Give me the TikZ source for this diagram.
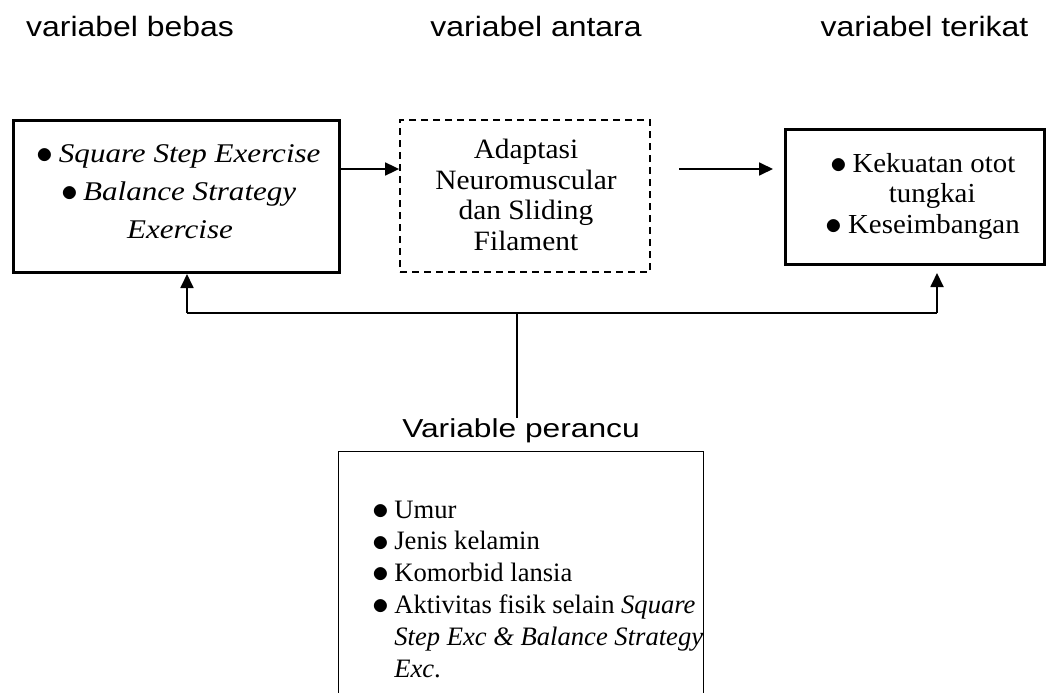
\documentclass[tikz,border=0pt]{standalone}
\usepackage{fontspec}
\usepackage{graphicx}
\setmainfont{Liberation Serif}
\newfontfamily\serifA[FakeStretch=1.15]{Liberation Serif}
\newfontfamily\serifB[FakeStretch=1.05]{Liberation Serif}
\newfontfamily\sansA[FakeStretch=1.14]{Liberation Sans}
\newfontfamily\sansB[FakeStretch=1.22]{Liberation Sans}
\usetikzlibrary{arrows.meta}
\newcommand\bul{\makebox[0.42em]{\raisebox{-0.05em}{\scalebox{1.35}{$\bullet$}}}\hspace{0.3em}}
\begin{document}
\begin{tikzpicture}[x=1pt,y=-1pt,
  toplabel/.style={anchor=base, inner sep=0, font=\sansA\fontsize{28}{32}\selectfont},
  boxframe/.style={draw, inner sep=0, line width=#1},
  dashframe/.style={draw, inner sep=0, line width=1.8pt, dash pattern=on 7pt off 5pt},
  boxtext/.style={inner sep=0, align=center, anchor=north},
  conn/.style={line width=1.8pt},
  arr/.style={line width=1.8pt, -{Triangle[length=14pt,width=13pt]}}]
\useasboundingbox (0,0) rectangle (1047,693);

% top labels
\node[toplabel] (lbA) at (130,37) {variabel bebas};
\node[toplabel] (lbB) at (536,37) {variabel antara};
\node[toplabel] (lbC) at (924.5,37) {variabel terikat};

% boxes
\node[boxframe=3pt, minimum width=326pt, minimum height=152pt] (bebas) at (176.5,196.5) {};
\node[dashframe, minimum width=250pt, minimum height=152pt] (antara) at (525,196) {};
\node[boxframe=2.6pt, minimum width=259.4pt, minimum height=135.4pt] (terikat) at (915,197) {};

% box texts
\node[boxtext, font=\serifA\itshape\fontsize{27}{38}\selectfont] (tA) at (180,144)
  {\bul Square Step Exercise\\ \bul Balance Strategy\\ Exercise};
\node[boxtext, font=\serifB\fontsize{28}{30.5}\selectfont] (tB) at (526,139)
  {Adaptasi\\ Neuromuscular\\ dan Sliding\\ Filament};
\node[boxtext, font=\serifB\fontsize{27.5}{30.5}\selectfont] (tC) at (924,153)
  {\bul Kekuatan otot\\ \hspace*{0.6em}tungkai\\ \bul Keseimbangan};

% confounder label and box
\node[anchor=base, inner sep=0, font=\sansB\fontsize{26}{30}\selectfont] (perancu) at (521,437) {Variable perancu};
\draw[line width=1.3pt] (338.5,693) -- (338.5,451.5) -- (703.5,451.5) -- (703.5,693);
\node[anchor=north west, inner sep=0, align=left, font=\fontsize{26.6}{31.8}\selectfont] (tD) at (375,500.4)
  {\bul Umur\\
   \bul Jenis kelamin\\
   \bul Komorbid lansia\\
   \bul Aktivitas fisik selain \textit{Square}\\
   \hphantom{\bul}\textit{Step Exc \& Balance Strategy}\\
   \hphantom{\bul}\textit{Exc}.};

% connectors
\coordinate (a1) at (341,169);
\coordinate (m1) at (679,169);
\coordinate (m2) at (773,169);
\coordinate (jl) at (187,313);
\coordinate (jr) at (937,313);
\coordinate (jm) at (517,313);

\draw[arr] (bebas.east |- a1) -- (antara.west |- a1);
\draw[arr] (m1) -- (m2);
\draw[conn] (jl) -- (jr);
\draw[conn] (jm) -- (jm |- perancu.north);
\draw[arr] (jl) -- (jl |- bebas.south);
\draw[arr, shorten >=7pt] (jr) -- (jr |- terikat.south);
\end{tikzpicture}
\end{document}
